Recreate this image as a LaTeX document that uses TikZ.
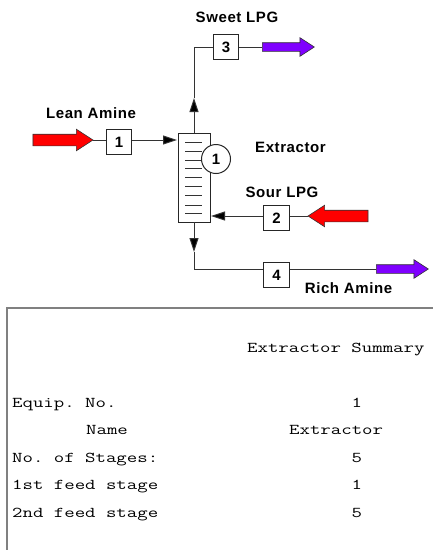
\documentclass[tikz,border=0pt]{standalone}
\usepackage{fontspec}
\setmainfont{Liberation Sans}
\setmonofont[FakeStretch=1.35]{Latin Modern Mono}
\newfontfamily\labfont[LetterSpace=4]{Liberation Sans}
\usetikzlibrary{shapes.arrows,arrows.meta,positioning}
\definecolor{redarrow}{HTML}{FF0000}
\definecolor{purplearrow}{HTML}{7F00FF}
\tikzset{
  conn/.style={draw=black!80,line width=1pt},
  tip/.style={conn,-{Triangle[length=14pt,width=9pt,fill=black]}},
  numbox/.style={draw=black!85,fill=white,line width=1pt,minimum width=25.5pt,minimum height=25.5pt,inner sep=0pt,font=\fontsize{15}{15}\selectfont\bfseries},
  flow/.style={single arrow,draw=black!80,line width=.6pt,inner xsep=0pt,inner ysep=5pt,outer sep=0pt,minimum height=60pt,single arrow head extend=5pt,single arrow head indent=0pt,single arrow tip angle=66},
  lab/.style={inner sep=0pt,font=\fontsize{15}{15}\selectfont\labfont\bfseries},
  tab/.style={anchor=base west,inner sep=0pt,font=\fontsize{15}{15}\selectfont\ttfamily,text=black},
  panel/.style={draw=black!50,line width=2pt},
}
\begin{document}
\begin{tikzpicture}[x=1pt,y=-1pt]
\useasboundingbox[fill=white] (0,0) rectangle (433,550);
% column
\node[draw=black!85,fill=white,line width=1pt,minimum width=32pt,minimum height=89pt,inner sep=0pt,outer sep=0pt] (ext) at (194,177.5) {};
\foreach \yy in {142,151,160,168,177,186,195,205,213}
  \draw[conn] (185,\yy) -- (202,\yy);
\node[draw=black!85,fill=white,line width=1pt,circle,minimum size=29pt,inner sep=0pt,font=\fontsize{15}{15}\selectfont\bfseries] (eqn) at (216,159) {1};
% boxes
\node[numbox] (b1) at (119,142) {1};
\node[numbox] (b2) at (276.5,218) {2};
\node[numbox] (b3) at (226,47) {3};
\node[numbox] (b4) at (276.5,275) {4};
% block arrows
\node[flow,fill=redarrow,minimum height=60pt,inner ysep=5.5pt] (lean) at (58.5,140) {};
\node[flow,fill=redarrow,shape border rotate=180,minimum height=60pt,inner ysep=5.5pt] (sour) at (342.5,216) {};
\node[flow,fill=purplearrow,minimum height=52pt,inner ysep=4pt] (sweet) at (285,47) {};
\node[flow,fill=purplearrow,minimum height=52pt,inner ysep=4pt] (rich) at (399,269) {};
% connectors
\coordinate (upt) at (194,98);
\coordinate (dnt) at (194,252);
\coordinate (int1) at (177,140);
\coordinate (int2) at (211,216);
\path[conn] (lean.tip) edge (b1.west |- lean.tip);
\draw[tip] (b1.east |- lean.tip) -- (int1);
\draw[tip] (sour.tip -| b2.west) -- (int2);
\draw[conn] (sour.tip) -- (b2.east |- sour.tip);
\draw[tip] (ext.north) -- (upt);
\draw[conn] (upt) |- (b3.west);
\draw[conn] (b3.east) -- (sweet.west);
\draw[tip] (ext.south) -- (dnt);
\draw[conn] (dnt) |- (b4.west |- rich.west);
\draw[conn] (b4.east |- rich.west) -- (rich.west);
% labels
\node[lab] (l1) at (237,17) {Sweet LPG};
\node[lab] (l2) at (91,113) {Lean Amine};
\node[lab] (l3) at (290.5,147) {Extractor};
\node[lab] (l4) at (282,192) {Sour LPG};
\node[lab] (l5) at (348.5,288) {Rich Amine};
% panel
\draw[panel] (7,550) -- (7,308) -- (433,308);
\node[tab] (t0) at (247,352) {Extractor Summary};
\node[tab] (t1) at (12,407) {Equip. No.};
\node[tab] (v1) at (351.5,407) {1};
\node[tab] (t2) at (86,434) {Name};
\node[tab] (v2) at (289,434) {Extractor};
\node[tab] (t3) at (12,462) {No. of Stages:};
\node[tab] (v3) at (351.5,462) {5};
\node[tab] (t4) at (12,489) {1st feed stage};
\node[tab] (v4) at (351.5,489) {1};
\node[tab] (t5) at (12,517) {2nd feed stage};
\node[tab] (v5) at (351.5,517) {5};
\end{tikzpicture}
\end{document}
